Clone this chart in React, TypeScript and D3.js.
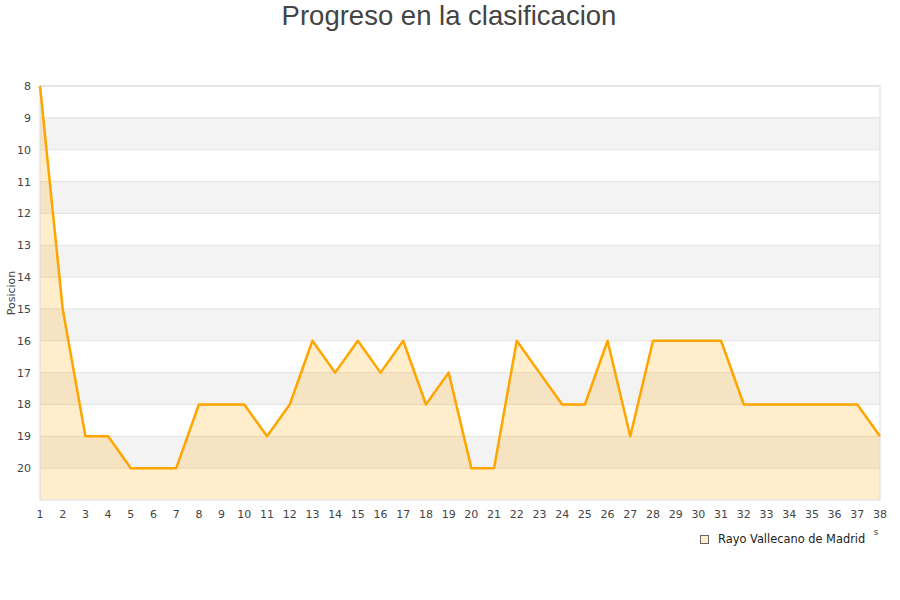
import React from "react";
import * as d3 from "d3";

const jornadas = d3.range(1, 39);
const posiciones = [8, 15, 19, 19, 20, 20, 20, 18, 18, 18, 19, 18, 16, 17, 16, 17, 16, 18, 17, 20, 20, 16, 17, 18, 18, 16, 19, 16, 16, 16, 16, 18, 18, 18, 18, 18, 18, 19];
const yTicks = d3.range(8, 21);
const seriesName = "Rayo Vallecano de Madrid";
const title = "Progreso en la clasificacion";

export default function App() {
  const W = 900, H = 600;
  const left = 40, right = 880, top = 86, bottom = 500;
  const x = d3.scaleLinear().domain([1, 38]).range([left, right]);
  const y = d3.scaleLinear().domain([8, 21]).range([top, bottom]);
  const data = jornadas.map((j, i) => ({ j, p: posiciones[i] }));
  const line = d3.line<{ j: number; p: number }>().x(d => x(d.j)).y(d => y(d.p));
  const area = d3.area<{ j: number; p: number }>().x(d => x(d.j)).y0(y(21)).y1(d => y(d.p));
  const bands = d3.range(9, 21, 2);
  const font = "DejaVu Sans, sans-serif";
  return (
    <svg width={W} height={H} style={{ position: "absolute", left: 0, top: 0 }} fontFamily={font}>
      <rect width={W} height={H} fill="#fff" />
      <text x={449} y={25} textAnchor="middle" fontFamily="Liberation Sans, Arial, sans-serif" fontSize={27.5} fill="#444">{title}</text>
      {bands.map(b => (
        <rect key={b} x={left} y={y(b)} width={right - left} height={y(b + 1) - y(b)} fill="#f3f3f3" />
      ))}
      {yTicks.map(t => (
        <line key={t} x1={left} x2={right} y1={y(t)} y2={y(t)} stroke="#e3e3e3" strokeWidth={1} />
      ))}
      <path d={area(data) || ""} fill="rgba(255,165,0,0.2)" />
      <rect x={left} y={top} width={right - left} height={bottom - top} fill="none" stroke="#dcdcdc" strokeWidth={1} />
      <path d={line(data) || ""} fill="none" stroke="#ffa500" strokeWidth={2.5} strokeLinejoin="round" />
      {yTicks.map(t => (
        <text key={t} x={31} y={y(t) + 4} textAnchor="end" fontSize={11} fill="#444">{t}</text>
      ))}
      {jornadas.map(j => (
        <text key={j} x={x(j)} y={518} textAnchor="middle" fontSize={11} fill="#444">{j}</text>
      ))}
      <text transform={`translate(15,${293}) rotate(-90)`} textAnchor="middle" fontSize={11} fill="#444">Posicion</text>
      <text x={876} y={535} textAnchor="middle" fontSize={9} fill="#444">s</text>
      <rect x={700.5} y={535.5} width={8} height={8} fill="#ffedcc" stroke="#666" strokeWidth={1} />
      <text x={718} y={543} fontSize={11.4} fill="#222">{seriesName}</text>
    </svg>
  );
}
